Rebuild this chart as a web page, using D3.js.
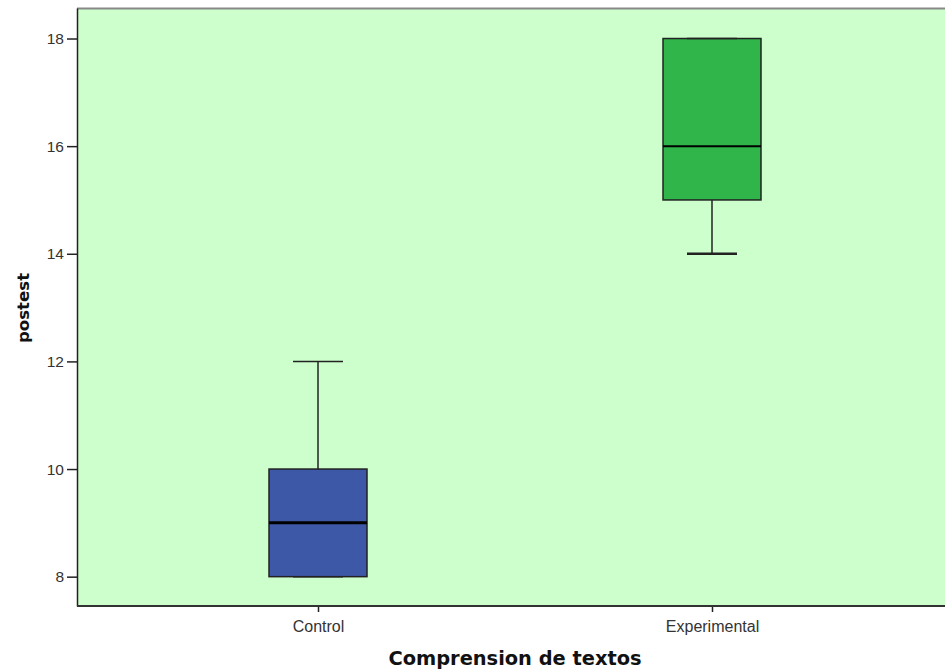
<!DOCTYPE html>
<html><head><meta charset="utf-8">
<script src="https://cdn.jsdelivr.net/npm/d3@7"></script>
<style>body{margin:0;background:#fff}</style>
</head><body>
<svg id="c" width="945" height="672"></svg>
<script>
const categories = ["Control", "Experimental"];
const mins = [8, 14];
const q1s = [8, 15];
const medians = [9, 16];
const q3s = [10, 18];
const maxs = [12, 18];
const colors = ["#3e58a8", "#2fb54a"];
const yTicks = [8, 10, 12, 14, 16, 18];

const svg = d3.select("#c");
const L = 77, T = 8, B = 606, R = 950;
const y = d3.scaleLinear().domain([7.455, 18.567]).range([B, T]);
const x = d3.scalePoint().domain(categories).range([121, 909]).padding(0.5);
const boxW = 98, capW = 50;
const FONT = "Liberation Sans, Arial, sans-serif";
const BFONT = "DejaVu Sans, Verdana, sans-serif";

svg.append("rect").attr("x", L).attr("y", T).attr("width", R - L).attr("height", B - T).attr("fill", "#ccffcc");
svg.append("line").attr("x1", L).attr("x2", R).attr("y1", T + 0.5).attr("y2", T + 0.5).attr("stroke", "#888").attr("stroke-width", 2);

const yAxis = d3.axisLeft(y).tickValues(yTicks).tickSize(10).tickSizeOuter(0).tickPadding(3).tickFormat(d3.format("d"));
const ga = svg.append("g").attr("transform", `translate(${L},0)`).call(yAxis);
ga.select(".domain").attr("stroke", "#222").attr("stroke-width", 1.5);
ga.selectAll("text").attr("font-family", FONT).attr("font-size", 15.5).attr("fill", "#333");
ga.selectAll(".tick line").attr("stroke", "#222").attr("stroke-width", 1.5);

const xAxis = d3.axisBottom(x).tickSize(6).tickSizeOuter(0).tickPadding(9);
const gx = svg.append("g").attr("transform", `translate(0,${B})`).call(xAxis);
gx.select(".domain").remove();
gx.selectAll("text").attr("font-family", FONT).attr("font-size", 16).attr("fill", "#333");
gx.selectAll(".tick line").attr("stroke", "#222").attr("stroke-width", 1.5);
svg.append("line").attr("x1", L).attr("x2", R).attr("y1", B).attr("y2", B).attr("stroke", "#333").attr("stroke-width", 2);

categories.forEach((c, i) => {
  const cx = x(c);
  const g = svg.append("g");
  g.append("line").attr("x1", cx).attr("x2", cx).attr("y1", y(maxs[i])).attr("y2", y(q3s[i])).attr("stroke", "#222").attr("stroke-width", 1.5);
  g.append("line").attr("x1", cx).attr("x2", cx).attr("y1", y(mins[i])).attr("y2", y(q1s[i])).attr("stroke", "#222").attr("stroke-width", 1.5);
  g.append("rect").attr("x", cx - boxW / 2).attr("y", y(q3s[i])).attr("width", boxW).attr("height", y(q1s[i]) - y(q3s[i]))
    .attr("fill", colors[i]).attr("stroke", "#222").attr("stroke-width", 1.5);
  g.append("line").attr("x1", cx - capW / 2).attr("x2", cx + capW / 2).attr("y1", y(maxs[i])).attr("y2", y(maxs[i])).attr("stroke", "#222").attr("stroke-width", 1.5);
  g.append("line").attr("x1", cx - capW / 2).attr("x2", cx + capW / 2).attr("y1", y(mins[i])).attr("y2", y(mins[i])).attr("stroke", "#222").attr("stroke-width", i === 1 ? 2.5 : 1.5);
  g.append("line").attr("x1", cx - boxW / 2).attr("x2", cx + boxW / 2).attr("y1", y(medians[i])).attr("y2", y(medians[i])).attr("stroke", "#000").attr("stroke-width", i === 0 ? 3 : 2);
});

svg.append("text").attr("x", 515).attr("y", 665).attr("text-anchor", "middle")
  .attr("font-family", BFONT).attr("font-weight", "bold").attr("font-size", 19.4).attr("fill", "#111")
  .text("Comprension de textos");
svg.append("text").attr("transform", "translate(29,308) rotate(-90)").attr("text-anchor", "middle")
  .attr("font-family", BFONT).attr("font-weight", "bold").attr("font-size", 16.6).attr("fill", "#111")
  .text("postest");
</script>
</body></html>
